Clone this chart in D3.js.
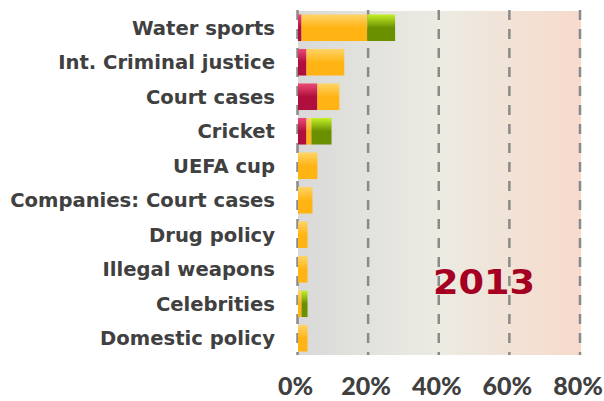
<!DOCTYPE html>
<html><head><meta charset="utf-8">
<script src="https://cdn.jsdelivr.net/npm/d3@7"></script>
<style>html,body{margin:0;padding:0;background:#fff;}svg{display:block;}</style>
</head><body>
<svg id="chart" width="604" height="401"></svg>
<script>
const categories = ["Water sports","Int. Criminal justice","Court cases","Cricket","UEFA cup","Companies: Court cases","Drug policy","Illegal weapons","Celebrities","Domestic policy"];
const redValues =    [1.0, 2.4, 5.5, 2.4, 0,   0,   0,   0,   0,   0];
const orangeValues = [18.6,10.7,6.2, 1.4, 5.5, 4.1, 2.7, 2.7, 1.0, 2.7];
const greenValues =  [7.9, 0,   0,   5.7, 0,   0,   0,   0,   1.7, 0];
const tickValues = [0,20,40,60,80];
const yearLabel = "2013";

const svg = d3.select("#chart");
const defs = svg.append("defs");

const x = d3.scaleLinear().domain([0,80]).range([297.5,580]);
const y = d3.scaleBand().domain(categories).range([11,355]).paddingInner(0.23).paddingOuter(0.1);

const bg = defs.append("linearGradient").attr("id","bgGrad").attr("x1","0").attr("x2","1").attr("y1","0").attr("y2","0");
bg.append("stop").attr("offset","0").attr("stop-color","#d9d9d9");
bg.append("stop").attr("offset","0.5").attr("stop-color","#ecebe2");
bg.append("stop").attr("offset","1").attr("stop-color","#f7dacb");

function vgrad(id, top, bottom){
  const g = defs.append("linearGradient").attr("id",id).attr("x1","0").attr("x2","0").attr("y1","0").attr("y2","1");
  g.append("stop").attr("offset","0").attr("stop-color",top);
  g.append("stop").attr("offset","0.5").attr("stop-color",bottom);
  g.append("stop").attr("offset","1").attr("stop-color",bottom);
}
vgrad("gRed","#ec4a76","#b00f3d");
vgrad("gOrange","#ffd468","#ffb414");
vgrad("gGreen","#c4f02a","#6a9000");

svg.append("rect").attr("x",x(0)+0.5).attr("y",11).attr("width",x(80)-x(0)+0.5).attr("height",344).attr("fill","url(#bgGrad)");

svg.append("g").selectAll("line").data(tickValues).join("line")
  .attr("x1",d=>x(d)).attr("x2",d=>x(d)).attr("y1",10).attr("y2",355)
  .attr("stroke","#8a8a8a").attr("stroke-width",2.5).attr("stroke-dasharray","10,9");

const series = [
  {vals: redValues, fill:"url(#gRed)"},
  {vals: orangeValues, fill:"url(#gOrange)"},
  {vals: greenValues, fill:"url(#gGreen)"}
];
const rows = categories.map((c,i)=>{
  let acc = 0;
  return series.map(s=>{ const r = {cat:c, x0:acc, x1:acc+s.vals[i], fill:s.fill}; acc += s.vals[i]; return r; });
}).flat().filter(d=>d.x1>d.x0);

svg.append("g").selectAll("rect").data(rows).join("rect")
  .attr("x",d=>x(d.x0)+0.5).attr("width",d=>x(d.x1)-x(d.x0))
  .attr("y",d=>y(d.cat)).attr("height",y.bandwidth())
  .attr("fill",d=>d.fill);

svg.append("g").selectAll("text").data(categories).join("text")
  .attr("x",275).attr("y",d=>y(d)+y.bandwidth()/2)
  .attr("dy","0.36em").attr("text-anchor","end")
  .attr("font-family","DejaVu Sans").attr("font-weight","bold").attr("font-size",19.6)
  .attr("fill","#404040").text(d=>d);

svg.append("g").selectAll("text").data(tickValues).join("text")
  .attr("x",d=>x(d)-2).attr("y",395).attr("text-anchor","middle")
  .attr("font-family","Lato").attr("font-weight",900).attr("font-size",25)
  .attr("fill","#404040").text(d=>d+"%");

svg.append("text").attr("x",433).attr("y",294)
  .attr("font-family","DejaVu Sans").attr("font-weight","bold").attr("font-size",34)
  .attr("textLength",102).attr("lengthAdjust","spacingAndGlyphs")
  .attr("fill","#a50021").text(yearLabel);
</script>
</body></html>
